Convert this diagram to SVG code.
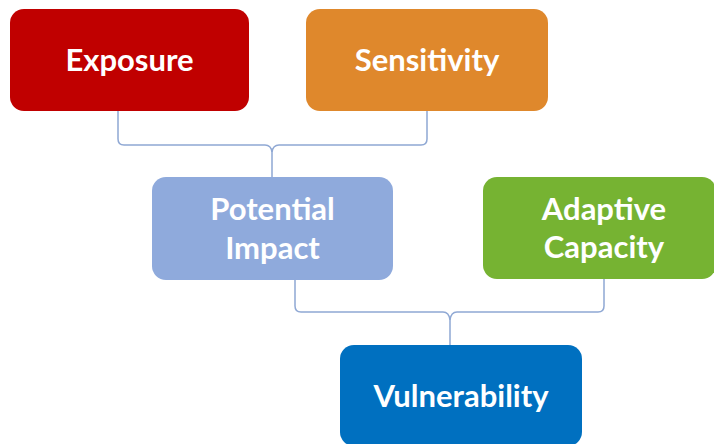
<svg xmlns="http://www.w3.org/2000/svg" width="714" height="444" viewBox="0 0 714 444">
<style>
.box{stroke:none}
.lbl{font-family:Lato,"Open Sans","Liberation Sans",sans-serif;font-weight:bold;font-size:31px;fill:#fff;text-anchor:middle}
.con{fill:none;stroke:#8FA8D4;stroke-width:1.5}
</style>
<rect width="714" height="444" fill="#fff"/>
<g id="connectors">
<path class="con" d="M118,111 L118,139 Q118,145 124,145 L265,145 Q271,145 272,152 L272,177"/>
<path class="con" d="M427,111 L427,139 Q427,145 421,145 L279,145 Q273,145 272,152"/>
<path class="con" d="M295,280 L295,306 Q295,312 301,312 L443,312 Q449,312 450,320 L450,345"/>
<path class="con" d="M604,279 L604,306 Q604,312 598,312 L457,312 Q451,312 450,320"/>
</g>
<g id="exposure">
<rect class="box" x="10" y="9" width="239" height="102" rx="14" fill="#C00000"/>
<text class="lbl" x="129.5" y="71">Exposure</text>
</g>
<g id="sensitivity">
<rect class="box" x="306" y="9" width="242" height="102" rx="14" fill="#DF882C"/>
<text class="lbl" x="427" y="71">Sensitivity</text>
</g>
<g id="potential-impact">
<rect class="box" x="152" y="177" width="241" height="103" rx="14" fill="#8FAADC"/>
<text class="lbl" x="272.5" y="220">Potential</text>
<text class="lbl" x="272.5" y="259">Impact</text>
</g>
<g id="adaptive-capacity">
<rect class="box" x="483" y="177" width="233" height="102" rx="14" fill="#76B332"/>
<text class="lbl" x="604" y="220">Adaptive</text>
<text class="lbl" x="604" y="258">Capacity</text>
</g>
<g id="vulnerability">
<rect class="box" x="340" y="345" width="242" height="101" rx="14" fill="#0070C0"/>
<text class="lbl" x="461" y="407">Vulnerability</text>
</g>
</svg>
